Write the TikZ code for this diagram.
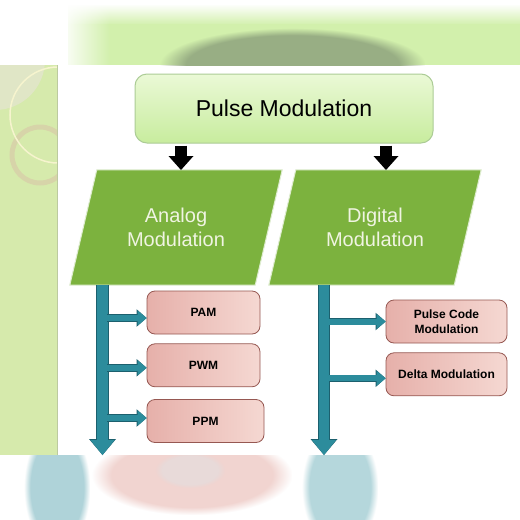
\documentclass[tikz,border=0pt]{standalone}
\usepackage{fontspec}
\setsansfont{Liberation Sans}
\usetikzlibrary{arrows.meta, shapes.geometric, positioning, fadings}
\pgfdeclarelayer{backdrop}
\pgfdeclarelayer{background}
\pgfsetlayers{backdrop,background,main}
\definecolor{leafgreen}{RGB}{124,178,62}
\definecolor{titletop}{RGB}{234,249,214}
\definecolor{titlebot}{RGB}{200,236,158}
\definecolor{titleline}{RGB}{172,204,150}
\definecolor{pinkleft}{RGB}{230,176,170}
\definecolor{pinkright}{RGB}{245,216,210}
\definecolor{pinkline}{RGB}{150,88,82}
\definecolor{barteal}{RGB}{44,140,156}
\definecolor{bardark}{RGB}{28,96,110}
\definecolor{stripgreen}{RGB}{214,234,172}
\definecolor{stripgray}{RGB}{224,230,198}
\definecolor{ringtan}{RGB}{216,204,168}
\definecolor{ringcream}{RGB}{246,244,206}
\definecolor{bandgreen}{RGB}{210,240,172}
\definecolor{blobgreen}{RGB}{152,174,132}
\definecolor{captext}{RGB}{240,244,226}
\tikzset{%
  % Specifications for style of nodes:
        base/.style = {font=\sffamily, text centered, align=center},
       headbox/.style = {base, rectangle, rounded corners=12pt,
                           draw=titleline, line width=1pt,
                           top color=titletop, bottom color=titlebot,
                           minimum width=298pt, minimum height=69pt,
                           font=\sffamily\fontsize{23}{27}\selectfont},
        family/.style = {base, rectangle, inner sep=0pt,
                           minimum width=185pt, minimum height=115pt,
                           text=captext,
                           font=\sffamily\fontsize{20}{24}\selectfont},
        slab/.style = {fill=leafgreen, draw=white!75!leafgreen,
                           line width=1pt},
        leaf/.style = {base, rectangle, rounded corners=8pt,
                           draw=pinkline, line width=0.8pt,
                           left color=pinkleft, right color=pinkright,
                           minimum width=113pt, minimum height=43pt,
                           font=\sffamily\bfseries\fontsize{12}{15}\selectfont},
        drop/.style = {draw=black, line width=12pt,
                           -{Triangle[width=25pt, length=14pt, line width=0pt]}},
        trunk/.style = {draw=barteal, line width=10.5pt,
                           -{Triangle[width=24pt, length=15pt, line width=0pt]},
                           preaction={draw=bardark, line width=12.5pt,
                           -{Triangle[width=27pt, length=16pt, line width=0pt]}}},
        twig/.style = {draw=barteal, line width=6pt,
                           -{Triangle[width=15pt, length=9pt, line width=0pt]},
                           preaction={draw=bardark, line width=7.5pt,
                           -{Triangle[width=17.5pt, length=10pt, line width=0pt]}}}
}

\begin{document}
\begin{tikzpicture}[x=1pt, y=-1pt]
  \useasboundingbox (0,0) rectangle (520,520);
  % slide background, blurred bands and side strip
  \begin{pgfonlayer}{backdrop}
  \fill[white] (0,0) rectangle (520,520);
  \fill[bandgreen] (68,24) rectangle (520,65);
  \fill[bandgreen, path fading=north] (68,4) rectangle (520,25);
  \fill[white, path fading=east] (60,0) rectangle (110,65);
  \begin{scope}
    \clip (0,0) rectangle (520,65);
    \fill[blobgreen, path fading=circle with fuzzy edge 20 percent]
      (160,28) rectangle (425,102);
  \end{scope}
  \begin{scope}
    \clip (0,455) rectangle (520,520);
    \fill[barteal!38!white, path fading=circle with fuzzy edge 20 percent]
      (24,425) rectangle (90,550);
    \fill[barteal!35!white, path fading=circle with fuzzy edge 20 percent]
      (302,425) rectangle (378,550);
    \fill[pinkleft!55!white, path fading=circle with fuzzy edge 20 percent]
      (92,435) rectangle (292,515);
    \fill[pinkline!22!white, path fading=circle with fuzzy edge 20 percent]
      (155,452) rectangle (225,488);
  \end{scope}
  \begin{scope}
    \clip (0,65) rectangle (57,455);
    \fill[stripgreen] (0,65) rectangle (57,455);
    \fill[stripgray] (-5,60) circle (50);
    \draw[ringtan, line width=5pt, opacity=0.7] (40,155) circle (28);
    \draw[ringcream, line width=1.5pt] (58,115) circle (48);
  \end{scope}
  \draw[stripgreen!70!gray] (57,65) -- (57,455);
  \end{pgfonlayer}

  % Specification of nodes (position, etc.)
    \node (title)   [headbox] at (284,108.5) {Pulse Modulation};
    \node (analog)  [family] at (176,227.5) {Analog\\Modulation};
    \node (digital) [family] at (375,227.5) {Digital\\Modulation};
    \node (pam)     [leaf] at (203.5,312.5) {PAM};
    \node (pwm)     [leaf, below=9pt of pam] {PWM};
    \node (ppm)     [leaf, minimum width=117pt] at (205.5,421) {PPM};
    \node (pcm)     [leaf, minimum width=121pt] at (446.5,321.5) {Pulse Code\\Modulation};
    \node (delta)   [leaf, minimum width=121pt, below=9pt of pcm] {Delta Modulation};

  % slanted green plates behind the two family nodes
  \begin{pgfonlayer}{background}
  \foreach \fam in {analog, digital}
    \draw[slab] ([xshift=-13.5pt]\fam.south west) -- ([xshift=13.5pt]\fam.north west)
      -- ([xshift=13.5pt]\fam.north east) -- ([xshift=-13.5pt]\fam.south east) -- cycle;
  \end{pgfonlayer}

  % free ends of the connectors
    \coordinate (lhit) at (181,170);
    \coordinate (rhit) at (386,170);
    \coordinate (aend) at (102.5,455);
    \coordinate (dend) at (324,455);
    \coordinate (aroot) at (107,0);
    \coordinate (droot) at (328.5,0);

  % Specification of lines between nodes specified above
  \draw[drop]  ([yshift=-2pt]title.south -| lhit) -- (lhit);
  \draw[drop]  ([yshift=-2pt]title.south -| rhit) -- (rhit);
  \draw[trunk] (analog.south -| aend) -- (aend);
  \draw[trunk] (digital.south -| dend) -- (dend);
  \draw[twig]  ([yshift=-5.5pt]pam.west -| aroot) -- ([yshift=-5.5pt]pam.west);
  \draw[twig]  ([yshift=-2.5pt]pwm.west -| aroot) -- ([yshift=-2.5pt]pwm.west);
  \draw[twig]  ([yshift=3pt]ppm.west -| aroot) -- ([yshift=3pt]ppm.west);
  \draw[twig]  (pcm.west -| droot) -- (pcm.west);
  \draw[twig]  ([yshift=-4pt]delta.west -| droot) -- ([yshift=-4pt]delta.west);
\end{tikzpicture}
\end{document}
